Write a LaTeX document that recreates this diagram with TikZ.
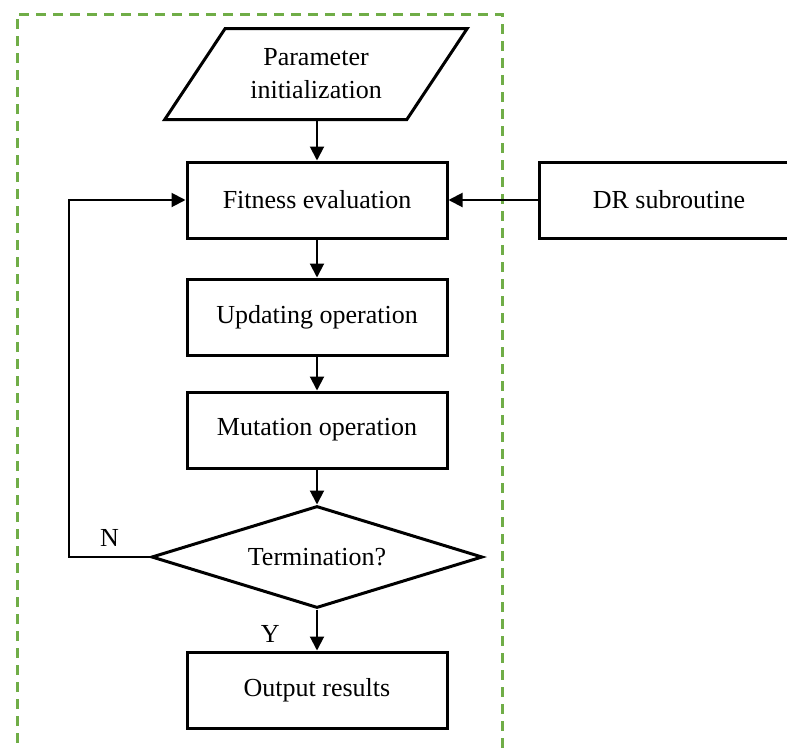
\documentclass[tikz,border=0pt]{standalone}
\usepackage{fontspec}
\setmainfont{Liberation Serif}
\usetikzlibrary{arrows.meta, shapes.geometric}

\definecolor{framegreen}{RGB}{112,173,71}

\begin{document}
\begin{tikzpicture}[x=1pt, y=-1pt,
            font=\fontsize{26}{33}\selectfont,
            box/.style={
                draw,
                line width=3pt,
                align=center,
                inner sep=0pt,
                minimum width=260pt,
                minimum height=76pt,
                },
            para/.style={
                draw,
                line width=3pt,
                align=center,
                trapezium,
                trapezium left angle=49,
                trapezium right angle=131,
                trapezium stretches=true,
                inner sep=0pt,
                minimum width=303pt,
                minimum height=91pt,
                },
            judge/.style={
                draw,
                line width=3pt,
                diamond,
                aspect=3.25,
                inner sep=0pt,
                minimum width=331pt,
                minimum height=102pt,
                },
            >={Triangle[length=14pt,width=14pt]},
            line/.style={draw, line width=2pt}]

        \clip (0,0) rectangle (787,747);

        % dashed frame round the main loop
        \draw[framegreen, line width=3pt, dash pattern=on 10pt off 7pt]
            (17,760) -- (17,14) -- (502,14) -- (502,760);

        \node[para] (init) at (316,74) {Parameter\\initialization};
        \node[box] (fit) at (317,200) {Fitness evaluation};
        \node[box] (dr) at (669,200) {DR subroutine};
        \node[box] (upd) at (317,317) {Updating operation};
        \node[box] (mut) at (317,430) {Mutation operation};
        \node[judge] (term) at (317,557) {Termination?};
        \node[box] (out) at (317,690) {Output results};

        \coordinate (back) at (69,557);

        \draw[->, line] (init.south -| fit.north) -- (fit);
        \draw[->, line] (dr) -- (fit);
        \draw[->, line] (fit) -- (upd);
        \draw[->, line] (upd) -- (mut);
        \draw[->, line] (mut) -- (term);
        \draw[->, line] (term) -- node[left=33pt, pos=.6] {Y} (out);
        \draw[->, line] (term) -- node[above=6pt, pos=.5] {N} (back) |- (fit);

    \end{tikzpicture}
\end{document}
